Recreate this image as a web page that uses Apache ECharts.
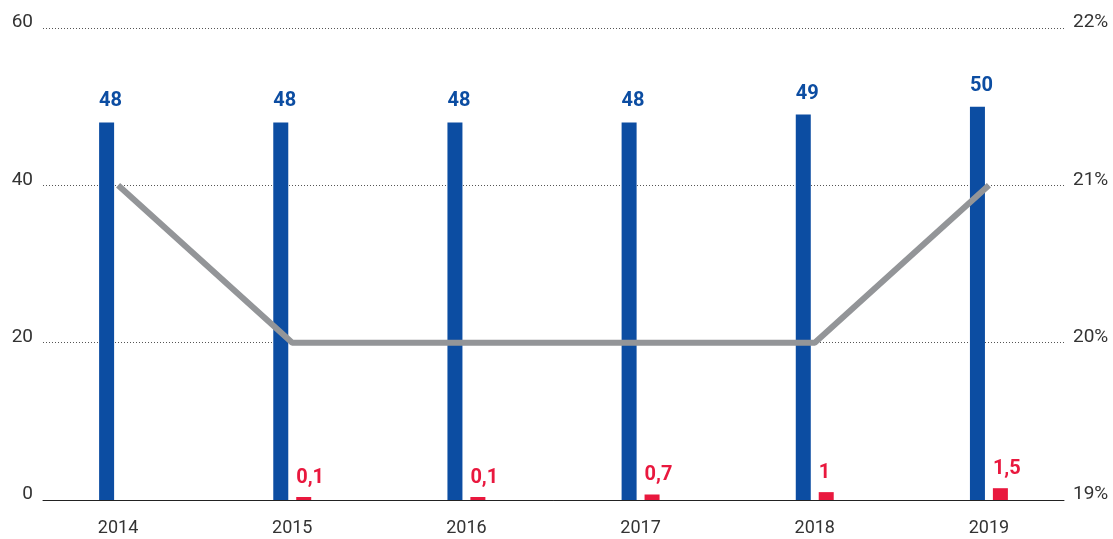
<!DOCTYPE html>
<html>
<head>
<meta charset="utf-8">
<script src="https://cdn.jsdelivr.net/npm/echarts@6/dist/echarts.min.js"></script>
<style>html,body{margin:0;padding:0;background:#fff;}#c{width:1113px;height:539px;}</style>
</head>
<body>
<div id="c"></div>
<script>
var categories = ['2014', '2015', '2016', '2017', '2018', '2019'];
var blueValues = [48, 48, 48, 48, 49, 50];
var redValues = [null, 0.1, 0.1, 0.7, 1, 1.5];
var lineValues = [21, 20, 20, 20, 20, 21];
var leftTicks = {min: 0, max: 60, interval: 20};
var rightTicks = {min: 19, max: 22, interval: 1};

var BLUE = '#0c4da2', RED = '#e9183e', GRAY = '#939598';
var FONT = 'Roboto';

function fmtComma(v) { return String(v).replace('.', ','); }

var chart = echarts.init(document.getElementById('c'), null, {renderer: 'canvas'});
chart.setOption({
  animation: false,
  backgroundColor: '#fff',
  grid: [
    {left: 43, right: 49, top: 28, bottom: 39},
    {left: 31, right: 37, top: 28, bottom: 39}
  ],
  xAxis: [
    {gridIndex: 0, type: 'category', data: categories,
     axisLine: {show: true, lineStyle: {color: '#222', width: 1}},
     axisTick: {show: false}, axisLabel: {show: false}, splitLine: {show: false}},
    {gridIndex: 1, type: 'category', data: categories,
     axisLine: {show: false}, axisTick: {show: false},
     axisLabel: {show: true, color: '#333', fontFamily: FONT, fontSize: 18, margin: 19}}
  ],
  yAxis: [
    {gridIndex: 0, type: 'value', min: leftTicks.min, max: leftTicks.max, interval: leftTicks.interval,
     axisLine: {show: false}, axisTick: {show: false},
     axisLabel: {color: '#333', fontFamily: FONT, fontSize: 19, margin: 10, verticalAlign: 'bottom', lineHeight: 11},
     splitLine: {show: true, lineStyle: {color: '#555', type: [1, 2], width: 1}}},
    {gridIndex: 0, type: 'value', position: 'right', min: rightTicks.min, max: rightTicks.max, interval: rightTicks.interval,
     axisLine: {show: false}, axisTick: {show: false},
     axisLabel: {color: '#333', fontFamily: FONT, fontSize: 19, margin: 9, verticalAlign: 'bottom', lineHeight: 11,
                 formatter: '{value}%'},
     splitLine: {show: false}},
    {gridIndex: 1, type: 'value', min: leftTicks.min, max: leftTicks.max, interval: leftTicks.interval, show: false},
    {gridIndex: 1, type: 'value', position: 'right', min: rightTicks.min, max: rightTicks.max, interval: rightTicks.interval, show: false}
  ],
  series: [
    {type: 'bar', xAxisIndex: 1, yAxisIndex: 2, data: blueValues, barWidth: 15, barGap: '53%',
     itemStyle: {color: BLUE},
     label: {show: true, position: [0, -11], align: 'left', verticalAlign: 'bottom',
             color: BLUE, fontFamily: FONT, fontWeight: 'bold', fontSize: 20,
             formatter: function (p) { return fmtComma(p.value); }}},
    {type: 'bar', xAxisIndex: 1, yAxisIndex: 2, data: redValues, barWidth: 15, barMinHeight: 3,
     itemStyle: {color: RED},
     label: {show: true, position: [0, -9], align: 'left', verticalAlign: 'bottom',
             color: RED, fontFamily: FONT, fontWeight: 'bold', fontSize: 20,
             formatter: function (p) { return p.value == null ? '' : fmtComma(p.value); }}},
    {type: 'line', xAxisIndex: 1, yAxisIndex: 3, data: lineValues, symbol: 'none',
     lineStyle: {color: GRAY, width: 6}, z: 5}
  ]
});
</script>
</body>
</html>
